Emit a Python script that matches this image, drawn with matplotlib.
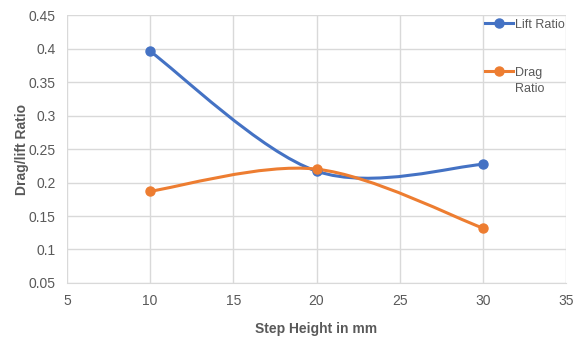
import numpy as np
import matplotlib
matplotlib.use('Agg')
import matplotlib.pyplot as plt
from matplotlib.path import Path
from matplotlib.patches import PathPatch
from matplotlib.lines import Line2D

plt.rcParams['font.family'] = ['Liberation Sans', 'DejaVu Sans']

# data
step_height = [10, 20, 30]
lift_ratio = [0.396, 0.217, 0.227]
drag_ratio = [0.187, 0.220, 0.132]
x_ticks = [5, 10, 15, 20, 25, 30, 35]
y_ticks = [0.05, 0.1, 0.15, 0.2, 0.25, 0.3, 0.35, 0.4, 0.45]
y_tick_labels = ['0.05', '0.1', '0.15', '0.2', '0.25', '0.3', '0.35', '0.4', '0.45']

blue = '#4472C4'
orange = '#ED7D31'
grey = '#595959'


def smooth_path(xs, ys):
    # Excel-like smoothed line: cubic bezier segments with Catmull-Rom control points
    pts = np.column_stack([xs, ys]).astype(float)
    n = len(pts)
    verts = [pts[0]]
    codes = [Path.MOVETO]
    for i in range(n - 1):
        p_prev = pts[max(i - 1, 0)]
        p0 = pts[i]
        p1 = pts[i + 1]
        p_next = pts[min(i + 2, n - 1)]
        c1 = p0 + (p1 - p_prev) / 6
        c2 = p1 - (p_next - p0) / 6
        verts += [c1, c2, p1]
        codes += [Path.CURVE4] * 3
    return Path(verts, codes)


fig = plt.figure(figsize=(5.76, 3.43), dpi=100)
ax = fig.add_axes([0.116, 0.175, 0.867, 0.781])

for ys, c in [(lift_ratio, blue), (drag_ratio, orange)]:
    ax.add_patch(PathPatch(smooth_path(step_height, ys), facecolor='none',
                           edgecolor=c, lw=2.2, capstyle='round', zorder=3))
    ax.plot(step_height, ys, 'o', color=c, ms=6.5, zorder=4)

ax.set_xlim(5, 35)
ax.set_ylim(0.05, 0.45)
ax.set_xticks(x_ticks)
ax.set_yticks(y_ticks)
ax.set_yticklabels(y_tick_labels)
ax.grid(True, color='#d9d9d9', lw=1)
ax.set_axisbelow(True)
for s in ['top', 'right', 'left']:
    ax.spines[s].set_visible(False)
ax.spines['bottom'].set_color('#d9d9d9')
ax.tick_params(length=0, labelsize=10, colors=grey, pad=8)

ax.set_xlabel('Step Height in mm', fontsize=10, fontweight='bold', color=grey, labelpad=10)
ax.set_ylabel('Drag/lift Ratio', fontsize=10, fontweight='bold', color=grey, labelpad=0)

leg_kw = dict(loc='upper left', frameon=False, fontsize=9, handlelength=2.2,
              handletextpad=0.2, labelcolor=grey, borderpad=0, borderaxespad=0)
lift_h = Line2D([], [], color=blue, lw=2.2, marker='o', ms=6.5)
drag_h = Line2D([], [], color=orange, lw=2.2, marker='o', ms=6.5)
blank_h = Line2D([], [], color='none')
leg1 = ax.legend([lift_h], ['Lift Ratio'], bbox_to_anchor=(0.838, 0.987), **leg_kw)
ax.add_artist(leg1)
ax.legend([drag_h, blank_h], ['Drag', 'Ratio'], bbox_to_anchor=(0.838, 0.807),
          labelspacing=0.35, **leg_kw)

fig.savefig('out.png', dpi=100)
